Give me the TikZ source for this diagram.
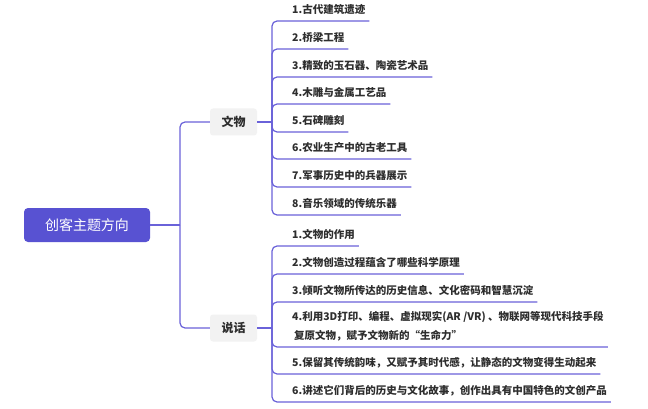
\documentclass[tikz,border=0pt]{standalone}
\usepackage{fontspec}
\setmainfont{Noto Sans CJK SC}
\definecolor{rootc}{HTML}{5852D2}
\definecolor{linec}{HTML}{6A62D9}
\definecolor{midc}{HTML}{F2F2F2}
\definecolor{txtc}{HTML}{2E2E2E}
\tikzset{
  rootbox/.style={fill=rootc, rounded corners=4pt, text=white, font=\fontsize{14}{16}\selectfont, minimum width=126pt, minimum height=34pt, inner sep=0pt},
  midbox/.style={fill=midc, rounded corners=3pt, text=txtc, font=\bfseries\fontsize{12}{13}\selectfont, minimum width=47pt, minimum height=27pt, inner sep=0pt},
  leaf/.style={anchor=south west, inner xsep=0pt, inner ysep=7pt, text depth=0pt, text=txtc, font=\bfseries\fontsize{10.5}{19}\selectfont, align=left},
  conn/.style={draw=linec, line width=1.2pt, rounded corners=5pt},
}
\begin{document}
\begin{tikzpicture}[x=1pt,y=-1pt]
\useasboundingbox (0,0) rectangle (648,409);
\fill[white] (0,0) rectangle (648,409);
\node[rootbox] (root) at (87,225) {创客主题方向};
\node[midbox] (wenwu) at (233.5,122) {文物};
\node[midbox] (shuohua) at (233.5,328) {说话};
\coordinate (jr) at (180,225);
\coordinate (jw) at (272,122);
\coordinate (js) at (272,328);
% leaves wenwu
\node[leaf] (w1) at (292,21) {1.古代建筑遗迹};
\node[leaf] (w2) at (292,49) {2.桥梁工程};
\node[leaf] (w3) at (292,77) {3.精致的玉石器、陶瓷艺术品};
\node[leaf] (w4) at (292,104) {4.木雕与金属工艺品};
\node[leaf] (w5) at (292,132) {5.石碑雕刻};
\node[leaf] (w6) at (292,159) {6.农业生产中的古老工具};
\node[leaf] (w7) at (292,187) {7.军事历史中的兵器展示};
\node[leaf] (w8) at (292,215) {8.音乐领域的传统乐器};
% leaves shuohua
\node[leaf] (s1) at (292,246) {1.文物的作用};
\node[leaf] (s2) at (292,274) {2.文物创造过程蕴含了哪些科学原理};
\node[leaf] (s3) at (292,302) {3.倾听文物所传达的历史信息、文化密码和智慧沉淀};
\node[leaf] (s4) at (292,347) {4.利用3D打印、编程、虚拟现实(AR /VR) 、物联网等现代科技手段\\\hspace{2pt}复原文物，赋予文物新的“生命力”};
\node[leaf] (s5) at (292,374) {5.保留其传统韵味，又赋予其时代感，让静态的文物变得生动起来};
\node[leaf] (s6) at (292,402) {6.讲述它们背后的历史与文化故事，创作出具有中国特色的文创产品};
% connectors
\draw[conn] (root.east) -- (jr);
\draw[conn] (jr) |- (wenwu.west);
\draw[conn] (jr) |- (shuohua.west);
\draw[conn] (wenwu.east) -- (jw);
\draw[conn] (shuohua.east) -- (js);
\foreach \n in {w1,w2,w3,w4,w5,w6,w7,w8}
  \draw[conn] (jw) |- ([xshift=4pt]\n.south east);
\foreach \n in {s1,s2,s3,s4,s5,s6}
  \draw[conn] (js) |- ([xshift=4pt]\n.south east);
\end{tikzpicture}
\end{document}
